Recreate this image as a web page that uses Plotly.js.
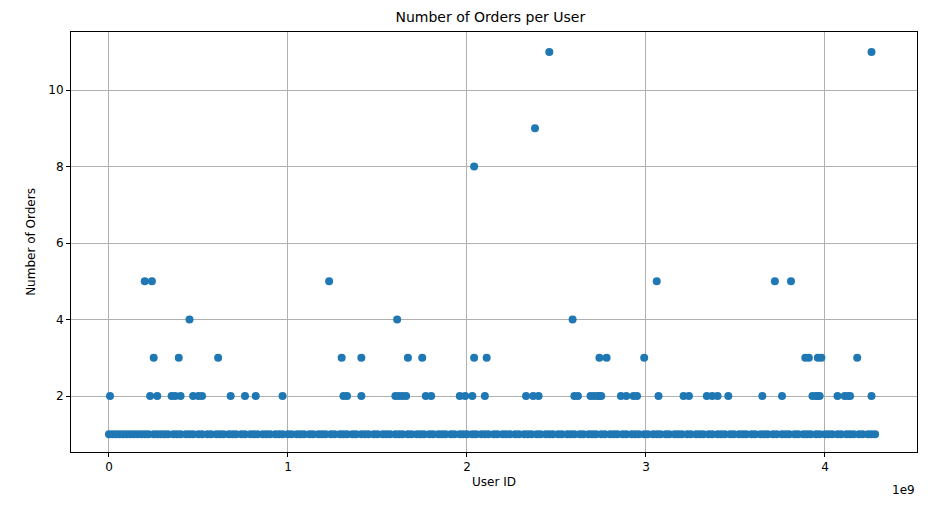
<!DOCTYPE html>
<html>
<head>
<meta charset="utf-8">
<script src="https://cdn.plot.ly/plotly-3.0.1.min.js"></script>
<style>body{margin:0;background:#fff}#chart{width:934px;height:506px}</style>
</head>
<body>
<div id="chart"></div>
<script>
// user IDs (units of 1e9) grouped by order count
const ids1 = [0.00,0.02,0.04,0.06,0.08,0.10,0.12,0.14,0.16,0.18,0.20,0.22,0.25,0.27,0.29,0.31,0.33,0.36,0.38,0.40,0.43,0.45,0.47,0.50,0.52,0.55,0.57,0.60,0.62,0.64,0.67,0.69,0.71,0.74,0.76,0.79,0.81,0.83,0.86,0.88,0.90,0.93,0.95,0.97,1.00,1.02,1.05,1.07,1.09,1.12,1.14,1.17,1.19,1.21,1.24,1.26,1.29,1.31,1.33,1.36,1.38,1.41,1.43,1.45,1.48,1.50,1.53,1.55,1.57,1.60,1.62,1.64,1.67,1.69,1.72,1.74,1.76,1.79,1.81,1.84,1.86,1.88,1.91,1.93,1.96,1.98,2.00,2.03,2.05,2.08,2.10,2.12,2.15,2.17,2.20,2.22,2.24,2.27,2.29,2.32,2.34,2.36,2.39,2.41,2.44,2.46,2.48,2.51,2.53,2.56,2.58,2.60,2.63,2.65,2.68,2.70,2.72,2.75,2.77,2.80,2.82,2.84,2.87,2.89,2.92,2.94,2.96,2.99,3.01,3.04,3.06,3.08,3.11,3.13,3.16,3.18,3.20,3.23,3.25,3.28,3.30,3.32,3.35,3.37,3.40,3.42,3.44,3.47,3.49,3.52,3.54,3.56,3.59,3.61,3.64,3.66,3.68,3.71,3.73,3.76,3.78,3.80,3.83,3.85,3.88,3.90,3.92,3.95,3.97,4.00,4.02,4.04,4.07,4.09,4.12,4.14,4.16,4.19,4.21,4.24,4.26,4.28];
const ids2 = [0.006,0.23,0.27,0.35,0.37,0.40,0.47,0.50,0.52,0.68,0.76,0.82,0.97,1.31,1.33,1.41,1.60,1.62,1.64,1.66,1.77,1.80,1.96,1.99,2.03,2.10,2.33,2.37,2.40,2.60,2.62,2.69,2.71,2.73,2.74,2.75,2.86,2.89,2.93,2.95,3.07,3.21,3.24,3.34,3.37,3.40,3.46,3.65,3.76,3.93,3.95,3.96,3.97,4.07,4.11,4.13,4.14,4.26];
const ids3 = [0.25,0.39,0.61,1.30,1.41,1.67,1.75,2.04,2.11,2.74,2.78,2.99,3.89,3.91,3.96,3.98,4.18];
const ids4 = [0.45,1.61,2.59];
const ids5 = [0.20,0.24,1.23,3.06,3.72,3.81];
const ids8 = [2.04];
const ids9 = [2.38];
const ids11 = [2.46,4.26];

const groups = [[ids1,1],[ids2,2],[ids3,3],[ids4,4],[ids5,5],[ids8,8],[ids9,9],[ids11,11]];
const x = [], y = [];
groups.forEach(([ids, n]) => ids.forEach((v) => { x.push(v * 1e9); y.push(n); }));

const axisStyle = {
  showline: true, mirror: true, linecolor: "#000", linewidth: 1,
  ticks: "outside", ticklen: 4, tickcolor: "#000",
  showgrid: true, gridcolor: "#b0b0b0", gridwidth: 1, zeroline: false,
  tickfont: { size: 12, color: "#000" },
};

Plotly.newPlot("chart", [{
  x, y, type: "scatter", mode: "markers",
  marker: { color: "#1f77b4", size: 8 },
}], {
  width: 934, height: 506,
  margin: { l: 71, r: 17, t: 32, b: 54 },
  paper_bgcolor: "#fff", plot_bgcolor: "#fff",
  font: { family: "DejaVu Sans", color: "#000" },
  showlegend: false,
  title: { text: "Number of Orders per User", font: { size: 14 }, x: 0.525, y: 0.975, xanchor: "center" },
  xaxis: Object.assign({}, axisStyle, {
    range: [-0.212e9, 4.514e9],
    tickvals: [0, 1e9, 2e9, 3e9, 4e9], ticktext: ["0", "1", "2", "3", "4"],
    title: { text: "User ID", font: { size: 12 }, standoff: 4 },
  }),
  yaxis: Object.assign({}, axisStyle, {
    range: [0.536, 11.52],
    tickvals: [2, 4, 6, 8, 10],
    title: { text: "Number of Orders", font: { size: 12 }, standoff: 10 },
  }),
  annotations: [{
    text: "1e9", xref: "paper", yref: "paper", x: 1, y: -0.07,
    xanchor: "right", yanchor: "top", showarrow: false, font: { size: 12 },
  }],
}, { displayModeBar: false });
</script>
</body>
</html>
